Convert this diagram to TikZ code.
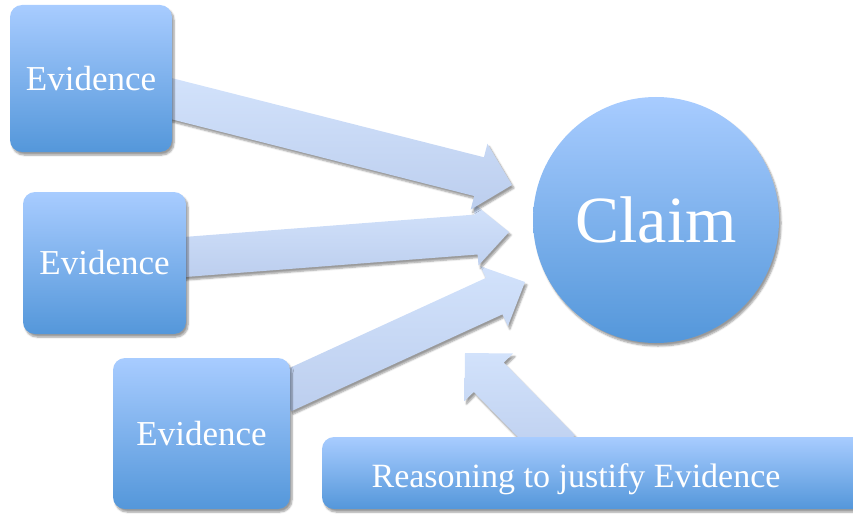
\documentclass[tikz,border=0pt]{standalone}
\usepackage{fontspec}
\setmainfont{Liberation Serif}
\usetikzlibrary{calc,shadows.blur}
\definecolor{boxtop}{RGB}{168,204,255}
\definecolor{boxbot}{RGB}{84,151,218}
\definecolor{arrtop}{RGB}{210,226,251}
\definecolor{arrbot}{RGB}{188,206,238}
\tikzset{
  boxstyle/.style={rectangle, rounded corners=12pt, top color=boxtop, bottom color=boxbot,
    draw=none, text=white, inner sep=0pt,
    blur shadow={shadow xshift=2pt, shadow yshift=-3pt, shadow opacity=40, shadow blur steps=6}},
  claimstyle/.style={circle, top color=boxtop, bottom color=boxbot, draw=none, text=white,
    inner sep=0pt, minimum size=246pt, font=\fontsize{66}{70}\selectfont,
    blur shadow={shadow xshift=2pt, shadow yshift=-3pt, shadow opacity=40, shadow blur steps=6}},
  evfont/.style={font=\fontsize{35}{40}\selectfont},
  arrowfill/.style={top color=arrtop, bottom color=arrbot, draw=none,
    blur shadow={shadow xshift=2pt, shadow yshift=-3pt, shadow opacity=40, shadow blur steps=5}},
}
% #1 start, #2 end, #3 shaft half width, #4 head half width, #5 head length
\newcommand\blockarrow[5]{%
  \coordinate (hb) at ($(#2)!#5!(#1)$);
  \path[arrowfill] ($(#1)!#3!90:(#2)$) -- ($(hb)!#3!90:(#2)$) -- ($(hb)!#4!90:(#2)$) -- (#2)
    -- ($(hb)!#4!-90:(#2)$) -- ($(hb)!#3!-90:(#2)$) -- ($(#1)!#3!-90:(#2)$) -- cycle;
}
\begin{document}
\begin{tikzpicture}[x=1pt,y=1pt]
\useasboundingbox (0,0) rectangle (853,-516);
% connector end points
\coordinate (a1s) at (165,-97);   \coordinate (a1e) at (512,-185);
\coordinate (a2s) at (178,-257.5);\coordinate (a2e) at (509,-232);
\coordinate (a3s) at (283,-393);  \coordinate (a3e) at (525,-282);
\coordinate (a4s) at (560,-450);  \coordinate (a4e) at (465,-353);
% arrows
\blockarrow{a4s}{a4e}{21pt}{34pt}{34pt}
\blockarrow{a3s}{a3e}{20pt}{33pt}{34pt}
\blockarrow{a2s}{a2e}{20pt}{31pt}{33pt}
\blockarrow{a1s}{a1e}{20pt}{34pt}{34pt}
% boxes
\node[boxstyle, evfont, minimum width=162pt, minimum height=147pt] (ev1) at (91,-78.5) {Evidence};
\node[boxstyle, evfont, minimum width=163pt, minimum height=142pt] (ev2) at (104.5,-263) {Evidence};
\node[boxstyle, evfont, minimum width=177pt, minimum height=151pt] (ev3) at (201.5,-433.5) {Evidence};
\node[boxstyle, minimum width=580pt, minimum height=72pt] (reason) at (612,-473) {};
\node[text=white, font=\fontsize{34}{40}\selectfont, anchor=base] (reasontext) at (576,-487) {Reasoning to justify Evidence};
\node[claimstyle] (claim) at (656,-220) {Claim};
\end{tikzpicture}
\end{document}
